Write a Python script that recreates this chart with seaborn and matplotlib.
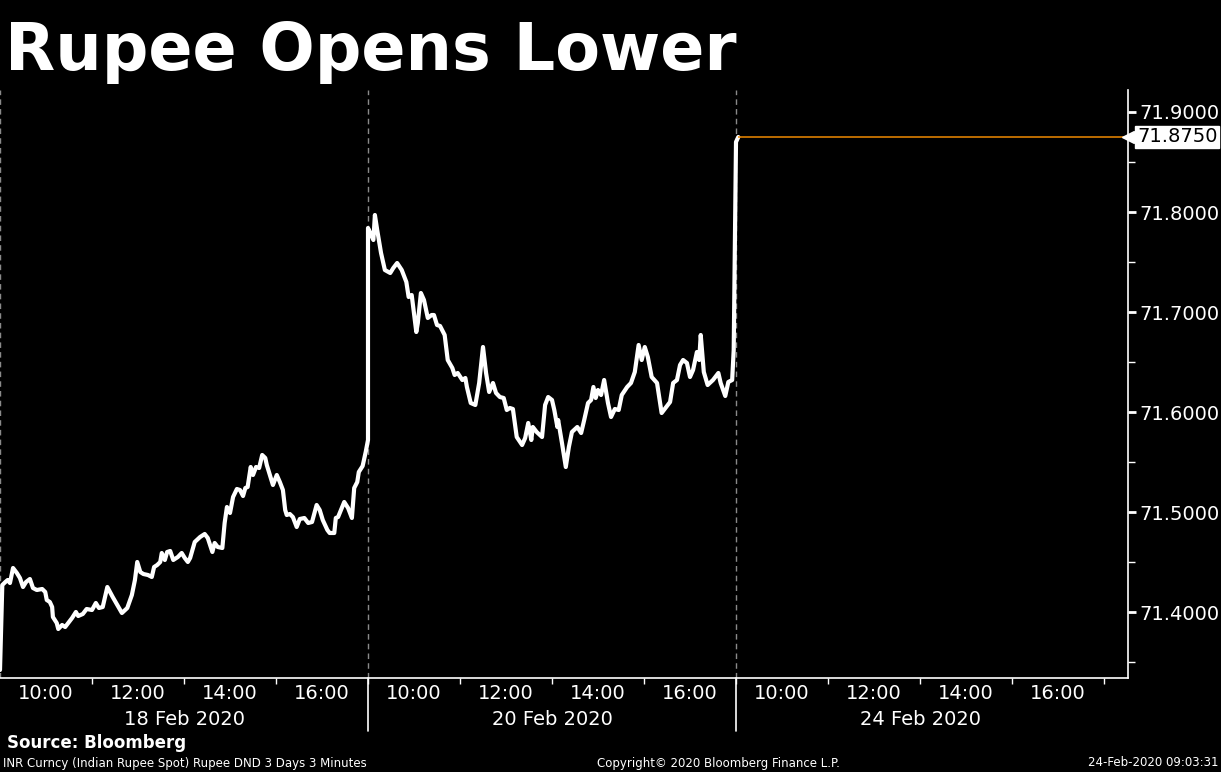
import numpy as np
import pandas as pd
import matplotlib
matplotlib.use("Agg")
import matplotlib.pyplot as plt
import matplotlib.transforms as mtransforms
from matplotlib.ticker import FixedLocator, MultipleLocator, FormatStrFormatter
import seaborn as sns

# ---------------- data ----------------
day_labels = ["18 Feb 2020", "20 Feb 2020", "24 Feb 2020"]
session_start_hour = 9
session_hours = 8

# minutes after 09:00 and INR spot values, day 1 (18 Feb)
d1_minutes = [0, 3, 7, 10, 13, 17, 22, 26, 30, 34, 39, 43, 48, 55, 59, 61, 65, 68, 69, 74,
              76, 81, 85, 89, 94, 99, 102, 108, 113, 120, 125, 129, 134, 140, 147, 153, 159, 166, 172, 176,
              179, 183, 187, 193, 198, 201, 205, 209, 211, 215, 218, 222, 226, 232, 237, 241, 245, 248, 254, 261,
              267, 271, 277, 280, 284, 290, 293, 296, 300, 304, 309, 313, 317, 320, 323, 327, 330, 334, 338, 342,
              346, 348, 352, 356, 361, 365, 369, 372, 374, 378, 382, 387, 391, 397, 402, 407, 413, 417, 421, 427,
              430, 436, 438, 441, 449, 454, 459, 462, 466, 468, 473, 477, 480]
d1_values = [71.342, 71.427, 71.430, 71.432, 71.429, 71.444, 71.439, 71.434, 71.425, 71.430,
             71.433, 71.424, 71.422, 71.423, 71.420, 71.412, 71.410, 71.405, 71.395, 71.389,
             71.383, 71.387, 71.385, 71.389, 71.394, 71.400, 71.396, 71.398, 71.403, 71.402,
             71.409, 71.404, 71.405, 71.425, 71.415, 71.407, 71.399, 71.404, 71.417, 71.432,
             71.450, 71.440, 71.438, 71.437, 71.435, 71.445, 71.447, 71.450, 71.459, 71.452,
             71.460, 71.461, 71.452, 71.455, 71.459, 71.454, 71.450, 71.454, 71.470, 71.475,
             71.478, 71.474, 71.460, 71.469, 71.465, 71.464, 71.489, 71.505, 71.499, 71.515,
             71.523, 71.522, 71.516, 71.524, 71.525, 71.545, 71.537, 71.545, 71.544, 71.557,
             71.554, 71.547, 71.537, 71.527, 71.537, 71.530, 71.522, 71.502, 71.497, 71.498,
             71.495, 71.485, 71.493, 71.494, 71.489, 71.490, 71.507, 71.502, 71.492, 71.482,
             71.479, 71.479, 71.494, 71.495, 71.510, 71.504, 71.494, 71.524, 71.530, 71.540,
             71.546, 71.560, 71.572]

# day 2 (20 Feb)
d2_minutes = [0, 3, 7, 9, 12, 17, 22, 29, 33, 38, 44, 50, 53, 57, 63, 65, 69, 73, 78, 83,
              86, 90, 94, 98, 100, 104, 110, 113, 117, 123, 127, 129, 134, 140, 145, 150, 154, 158, 163, 167,
              172, 177, 181, 185, 189, 194, 201, 205, 209, 213, 215, 220, 227, 231, 235, 240, 243, 247, 248, 253,
              258, 262, 266, 273, 278, 282, 287, 291, 294, 297, 300, 304, 308, 313, 317, 322, 327, 331, 338, 343,
              348, 353, 357, 361, 365, 370, 377, 383, 387, 394, 398, 403, 407, 411, 416, 420, 424, 429, 432, 434,
              438, 443, 450, 457, 460, 466, 470, 475, 477]
d2_values = [71.784, 71.779, 71.772, 71.797, 71.782, 71.759, 71.742, 71.739, 71.744, 71.749,
             71.742, 71.730, 71.715, 71.717, 71.680, 71.689, 71.719, 71.712, 71.694, 71.697,
             71.697, 71.687, 71.686, 71.680, 71.677, 71.652, 71.644, 71.637, 71.639, 71.632,
             71.634, 71.625, 71.609, 71.607, 71.629, 71.665, 71.639, 71.620, 71.629, 71.619,
             71.615, 71.614, 71.602, 71.604, 71.603, 71.575, 71.567, 71.574, 71.589, 71.572,
             71.585, 71.580, 71.575, 71.607, 71.615, 71.612, 71.602, 71.585, 71.592, 71.569,
             71.545, 71.565, 71.580, 71.585, 71.579, 71.592, 71.609, 71.612, 71.625, 71.614,
             71.622, 71.617, 71.632, 71.609, 71.595, 71.603, 71.602, 71.617, 71.625, 71.629,
             71.640, 71.667, 71.652, 71.665, 71.655, 71.635, 71.629, 71.599, 71.603, 71.610,
             71.629, 71.632, 71.647, 71.652, 71.649, 71.635, 71.642, 71.660, 71.652, 71.677,
             71.640, 71.627, 71.632, 71.639, 71.629, 71.616, 71.630, 71.632, 71.662]

# day 3 (24 Feb)
d3_minutes = [0, 3]
d3_values = [71.870, 71.875]

last_price = 71.875
y_ticks = [71.4, 71.5, 71.6, 71.7, 71.8, 71.9]
hour_labels = ["10:00", "12:00", "14:00", "16:00"]

title = "Rupee Opens Lower"
source = "Source: Bloomberg"
footer_left = "INR Curncy (Indian Rupee Spot) Rupee DND 3 Days 3 Minutes"
footer_mid = "Copyright\u00a9 2020 Bloomberg Finance L.P."
footer_right = "24-Feb-2020 09:03:31"

# ---------------- build frame ----------------
frames = []
for i, (m, v) in enumerate([(d1_minutes, d1_values), (d2_minutes, d2_values), (d3_minutes, d3_values)]):
    frames.append(pd.DataFrame({"pos": i * session_hours + np.array(m) / 60.0, "value": v}))
df = pd.concat(frames, ignore_index=True)

# ---------------- figure ----------------
sns.set_theme(style="dark")
plt.rcParams["font.family"] = ["DejaVu Sans"]
fig = plt.figure(figsize=(12.21, 7.72), dpi=100, facecolor="black")
W, H = 1221, 772
ax = fig.add_axes([0, (H - 678) / H, 1128 / W, (678 - 90) / H])
ax.set_facecolor("black")

sns.lineplot(data=df, x="pos", y="value", ax=ax, color="white", lw=3.0, sort=True,
             estimator=None, solid_joinstyle="round", solid_capstyle="round")

xmax = 1128 / 46.0
ax.set_xlim(0, xmax)
ax.set_ylim(71.334, 71.922)

last_x = df["pos"].iloc[-1]
ax.hlines(last_price, last_x, xmax, color="#f08a00", lw=1.1, zorder=3)

# day separators
for i in range(3):
    ax.axvline(i * session_hours, color="#8a8a8a", lw=1, ls=(0, (4, 3)), zorder=1)
trans = mtransforms.blended_transform_factory(ax.transData, ax.transAxes)
for i in (1, 2):
    ax.plot([i * session_hours] * 2, [0, -0.09], color="white", lw=1.2,
            transform=trans, clip_on=False)

# spines
for s in ("left", "top"):
    ax.spines[s].set_visible(False)
for s in ("bottom", "right"):
    ax.spines[s].set_visible(True)
    ax.spines[s].set_color("white")
    ax.spines[s].set_linewidth(1.2)

# y axis on right
ax.yaxis.tick_right()
ax.yaxis.set_major_locator(FixedLocator(y_ticks))
ax.yaxis.set_minor_locator(MultipleLocator(0.05))
ax.yaxis.set_major_formatter(FormatStrFormatter("%.4f"))
ax.tick_params(axis="y", which="major", colors="white", labelcolor="white", labelsize=14,
               length=6, width=2, direction="out", pad=2, right=True, left=False)
ax.tick_params(axis="y", which="minor", colors="white", length=5, width=1,
               direction="out", right=True, left=False)

# x axis: hour ticks
hour_pos = []
lbl_pos, lbl_txt = [], []
for d in range(3):
    for h in range(1, session_hours + 1):
        hour_pos.append(d * session_hours + h)
    for lab in hour_labels:
        hh = int(lab.split(":")[0])
        lbl_pos.append(d * session_hours + hh - session_start_hour)
        lbl_txt.append(lab)
ax.xaxis.set_minor_locator(FixedLocator(hour_pos))
ax.set_xticks(lbl_pos)
ax.set_xticklabels(lbl_txt)
ax.tick_params(axis="x", which="major", colors="white", labelcolor="white", labelsize=14,
               length=0, pad=4, bottom=True)
ax.tick_params(axis="x", which="minor", colors="white", length=4, width=1,
               direction="out", bottom=True)
ax.set_xlabel("")
ax.set_ylabel("")
ax.grid(False)

for d, lab in enumerate(day_labels):
    ax.text(d * session_hours + session_hours / 2, -0.07, lab, transform=trans,
            ha="center", va="center", color="white", fontsize=14)

# last price label (white tag pointing at the axis)
ytrans = mtransforms.blended_transform_factory(ax.transAxes, ax.transData)
ax.plot([1.0], [last_price], marker="<", ms=9, color="white", transform=ytrans,
        clip_on=False, zorder=5)
ax.annotate(f"{last_price:.4f}", xy=(1.0, last_price), xycoords=ytrans,
            xytext=(6.5, 0), textcoords="offset points", ha="left", va="center",
            color="black", fontsize=14, annotation_clip=False, zorder=6,
            bbox=dict(boxstyle="square,pad=0.08", fc="white", ec="white"))

# texts
fig.text(5 / W, 1 - 70 / H, title, color="white", fontsize=47, fontweight="bold",
         ha="left", va="baseline")
fig.text(7 / W, 1 - 743 / H, source, color="white", fontsize=12, fontweight="bold",
         ha="left", va="center")
fig.text(3 / W, 1 - 763 / H, footer_left, color="white", fontsize=8.5, ha="left", va="center")
fig.text(718 / W, 1 - 763 / H, footer_mid, color="white", fontsize=8.5, ha="center", va="center")
fig.text(1218 / W, 1 - 763 / H, footer_right, color="white", fontsize=8.5, ha="right", va="center")

fig.savefig("out.png", dpi=100, facecolor="black")
